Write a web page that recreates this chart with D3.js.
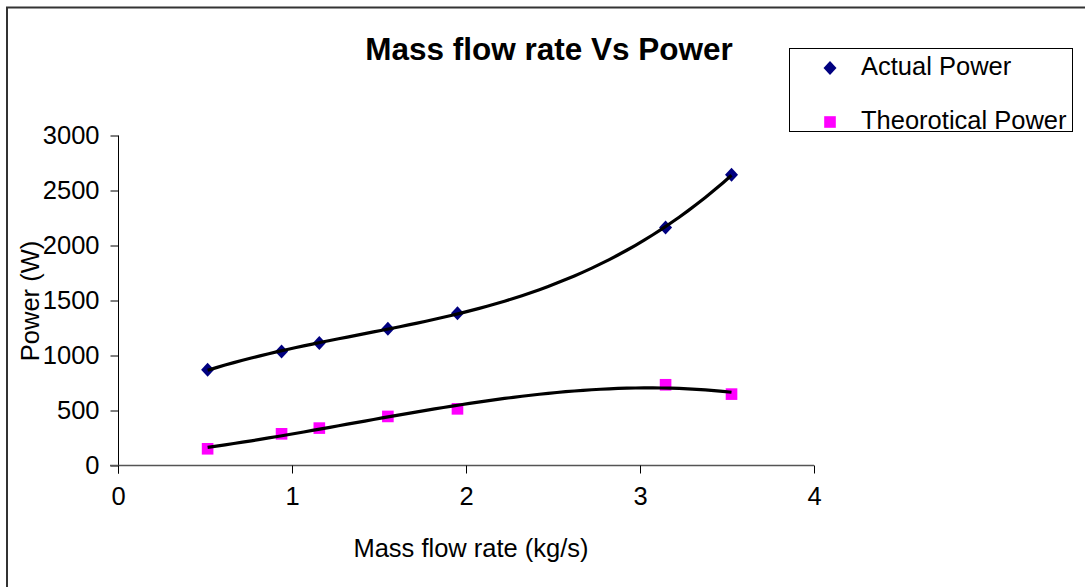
<!DOCTYPE html>
<html>
<head>
<meta charset="utf-8">
<script src="https://cdn.jsdelivr.net/npm/d3@7"></script>
<style>
  html, body { margin: 0; padding: 0; background: #fff; }
  svg { display: block; font-family: "Liberation Sans", Arial, sans-serif; }
</style>
</head>
<body>
<svg id="chart" width="1085" height="587"></svg>
<script>
// ---- data ----
const massFlow = [0.515, 0.94, 1.157, 1.551, 1.951, 3.147, 3.526];
const actualPower = [870, 1036, 1113, 1243, 1385, 2164, 2643];
const theoreticalPower = [152, 288, 340, 446, 515, 734, 649];
const xTicks = [0, 1, 2, 3, 4];
const yTicks = [0, 500, 1000, 1500, 2000, 2500, 3000];
const seriesNames = ["Actual Power", "Theorotical Power"];
const titleText = "Mass flow rate Vs Power";
const xTitle = "Mass flow rate (kg/s)";
const yTitle = "Power (W)";

// ---- cubic least-squares trendline (Excel-style polynomial trend) ----
function polyFit(xs, ys, order) {
  const n = order + 1;
  const A = Array.from({length: n}, () => new Array(n + 1).fill(0));
  for (let r = 0; r < n; r++) {
    for (let c = 0; c < n; c++) A[r][c] = d3.sum(xs, x => Math.pow(x, r + c));
    A[r][n] = d3.sum(xs, (x, i) => ys[i] * Math.pow(x, r));
  }
  for (let i = 0; i < n; i++) {
    let p = i;
    for (let k = i + 1; k < n; k++) if (Math.abs(A[k][i]) > Math.abs(A[p][i])) p = k;
    [A[i], A[p]] = [A[p], A[i]];
    for (let k = i + 1; k < n; k++) {
      const f = A[k][i] / A[i][i];
      for (let j = i; j <= n; j++) A[k][j] -= f * A[i][j];
    }
  }
  const coef = new Array(n).fill(0);
  for (let i = n - 1; i >= 0; i--) {
    let s = A[i][n];
    for (let j = i + 1; j < n; j++) s -= A[i][j] * coef[j];
    coef[i] = s / A[i][i];
  }
  return x => coef.reduce((acc, c, k) => acc + c * Math.pow(x, k), 0);
}

const svg = d3.select("#chart");
const FS = 25.5;

// outer chart-area border (only top/left visible in the reference)
svg.append("rect")
  .attr("x", 7).attr("y", 7.5)
  .attr("width", 1200).attr("height", 700)
  .attr("fill", "none").attr("stroke", "#333").attr("stroke-width", 2);

const x = d3.scaleLinear().domain([0, 4]).range([118, 814]);
const y = d3.scaleLinear().domain([0, 3000]).range([465.5, 135.5]);

// y axis
const yAxis = svg.append("g")
  .attr("transform", "translate(118.5,0)")
  .call(d3.axisLeft(y).tickValues(yTicks).tickSize(8).tickPadding(11).tickFormat(d3.format("d")));
yAxis.select(".domain").attr("stroke", "#000").attr("stroke-width", 1)
  .attr("d", `M0,${y(3000)}V${y(0) + 8}`);
yAxis.selectAll(".tick line").attr("stroke", "#000");
yAxis.selectAll(".tick text")
  .attr("font-size", FS).attr("fill", "#000")
  .attr("font-family", "Liberation Sans, Arial, sans-serif");

// x axis
const xAxis = svg.append("g")
  .attr("transform", "translate(0,465.5)")
  .call(d3.axisBottom(x).tickValues(xTicks).tickSize(8).tickPadding(13).tickFormat(d3.format("d")));
xAxis.select(".domain").attr("stroke", "#555").attr("stroke-width", 1.6)
  .attr("d", `M${x(0) - 8},0H${x(4)}`);
xAxis.selectAll(".tick line").attr("stroke", "#000");
xAxis.selectAll(".tick text")
  .attr("font-size", FS).attr("fill", "#000")
  .attr("font-family", "Liberation Sans, Arial, sans-serif");

// titles
svg.append("text")
  .attr("x", 549).attr("y", 60)
  .attr("text-anchor", "middle")
  .attr("font-size", 31.5).attr("font-weight", "bold")
  .text(titleText);

svg.append("text")
  .attr("x", 471).attr("y", 557)
  .attr("text-anchor", "middle")
  .attr("font-size", FS)
  .text(xTitle);

svg.append("text")
  .attr("transform", "translate(39,301) rotate(-90)")
  .attr("text-anchor", "middle")
  .attr("font-size", FS)
  .text(yTitle);

// markers
const diamond = () => "M0,-7L6.5,0L0,7L-6.5,0Z";
const square = d3.symbol().type(d3.symbolSquare).size(135);

svg.append("g").selectAll("path")
  .data(massFlow.map((m, i) => [m, theoreticalPower[i]]))
  .join("path")
  .attr("d", square)
  .attr("transform", d => `translate(${x(d[0])},${y(d[1])})`)
  .attr("fill", "#FF00FF");

svg.append("g").selectAll("path")
  .data(massFlow.map((m, i) => [m, actualPower[i]]))
  .join("path")
  .attr("d", diamond)
  .attr("transform", d => `translate(${x(d[0])},${y(d[1])})`)
  .attr("fill", "#000080");

// trendlines (black, on top of markers)
const line = d3.line().x(d => x(d[0])).y(d => y(d[1]));
[actualPower, theoreticalPower].forEach(vals => {
  const f = polyFit(massFlow, vals, 3);
  const x0 = d3.min(massFlow), x1 = d3.max(massFlow);
  const pts = d3.range(0, 61).map(i => {
    const xv = x0 + (x1 - x0) * i / 60;
    return [xv, f(xv)];
  });
  svg.append("path")
    .datum(pts)
    .attr("d", line)
    .attr("fill", "none")
    .attr("stroke", "#000")
    .attr("stroke-width", 3.2)
    .attr("stroke-linejoin", "round");
});

// legend
const lg = svg.append("g");
lg.append("rect")
  .attr("x", 789.5).attr("y", 48.5)
  .attr("width", 283).attr("height", 83)
  .attr("fill", "#fff").attr("stroke", "#000").attr("stroke-width", 1);
const legendItems = [
  {name: seriesNames[0], sym: diamond, color: "#000080", cy: 68},
  {name: seriesNames[1], sym: square, color: "#FF00FF", cy: 122}
];
legendItems.forEach(it => {
  lg.append("path")
    .attr("d", it.sym)
    .attr("transform", `translate(830,${it.cy})`)
    .attr("fill", it.color);
  lg.append("text")
    .attr("x", 861).attr("y", it.cy + 6.5)
    .attr("font-size", FS)
    .text(it.name);
});
</script>
</body>
</html>
